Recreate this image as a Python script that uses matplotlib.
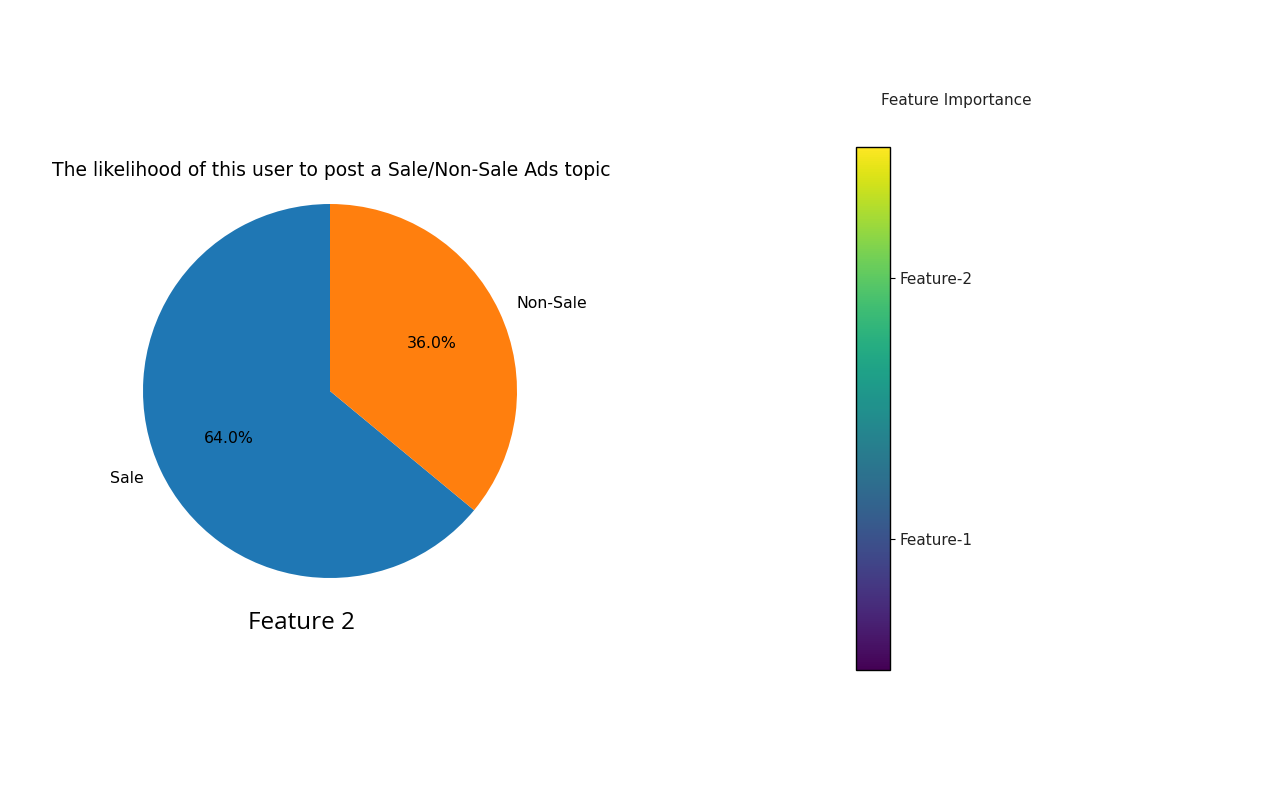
import matplotlib
matplotlib.use("Agg")
import matplotlib.pyplot as plt
from matplotlib import cm, colors

labels = ["Sale", "Non-Sale"]
sizes = [64.0, 36.0]
title = "The likelihood of this user to post a Sale/Non-Sale Ads topic"
feature_name = "Feature 2"

cbar_ticks = [0.25, 0.75]
cbar_labels = ["Feature-1", "Feature-2"]

fig = plt.figure(figsize=(12.8, 7.96), dpi=100)

# pie, centred near (330, 391) px, radius ~187 px
ax = fig.add_axes([96.25 / 1280, 1 - 624.75 / 796, 467.5 / 1280, 467.5 / 796])
ax.pie(sizes, labels=labels, autopct="%1.1f%%", startangle=90,
       colors=["#1f77b4", "#ff7f0e"], textprops={"fontsize": 11.3})
ax.set_aspect("equal")
fig.text(331 / 1280, 1 - 170 / 796, title, ha="center", va="center", fontsize=13.5)
fig.text(301 / 1280, 1 - 623 / 796, feature_name, ha="center", va="center",
         fontsize=17.5, family="Open Sans")

# colorbar
cax = fig.add_axes([856 / 1280, 1 - 670 / 796, 34 / 1280, 523 / 796])
sm = cm.ScalarMappable(norm=colors.Normalize(0, 1), cmap="viridis")
cb = fig.colorbar(sm, cax=cax, ticks=cbar_ticks)
cb.ax.set_yticklabels(cbar_labels, fontsize=11, color="#222222")
cb.outline.set_linewidth(1.0)
fig.text(956 / 1280, 1 - 100 / 796, "Feature Importance", ha="center", va="center",
         fontsize=11, color="#222222")

fig.savefig("out.png", dpi=100)
